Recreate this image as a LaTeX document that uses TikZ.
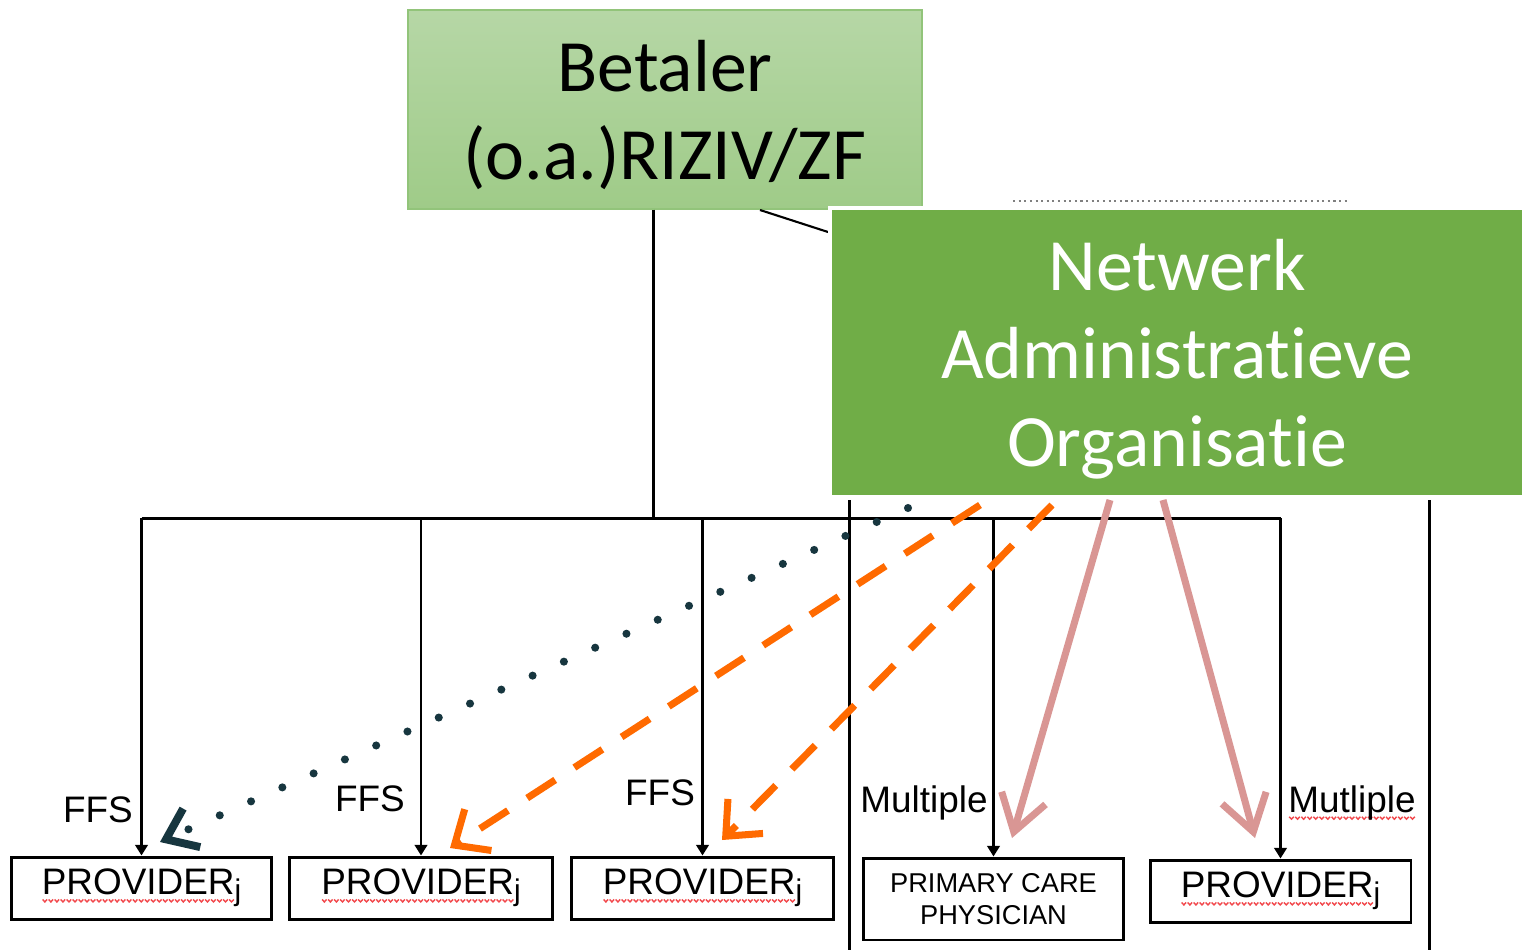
\documentclass[tikz,border=0pt]{standalone}
\usepackage{fontspec}
\setmainfont{Liberation Sans}
\newfontfamily\calibri[Ligatures=NoCommon]{Carlito}
\usetikzlibrary{arrows.meta}
\definecolor{spellred}{HTML}{F2484C}
\definecolor{paytop}{HTML}{B6D7A6}
\definecolor{paybot}{HTML}{9FCB88}
\definecolor{payline}{HTML}{92C47A}
\definecolor{naogreen}{HTML}{70AD47}
\definecolor{dotnavy}{HTML}{17363F}
\definecolor{dashorange}{HTML}{FF6A00}
\definecolor{capred}{HTML}{D99694}
\newsavebox{\wavebox}
\newcommand{\spellwave}[1]{\sbox{\wavebox}{#1}\rlap{\raisebox{-4.5pt}{\hbox to \wd\wavebox{\xleaders\hbox{\tikz[x=1pt,y=1pt]\draw[spellred,line width=0.8pt] (0,0) -- (1.3,-1.4) -- (2.6,0);}\hfill}}}\usebox{\wavebox}}
\newcommand{\provj}{\spellwave{PROVIDER}\raisebox{-3.5pt}{\fontsize{17}{17}\selectfont j}}
\newcommand{\ti}{t\kern0pt i}

\begin{document}
\begin{tikzpicture}[x=0.02cm,y=-0.02cm]
                        \tikzstyle{paybox}=[draw=payline,line width=0.8pt,top color=paytop,bottom color=paybot,minimum width=10.28cm,minimum height=3.98cm]
                        \tikzstyle{naobox}=[draw=white,line width=2pt,fill=naogreen,minimum width=13.88cm,minimum height=5.78cm]
                        \tikzstyle{bigtext}=[align=center,font=\calibri\fontsize{42}{50}\selectfont]
                        \tikzstyle{provbox}=[draw,line width=1.7pt,minimum width=5.22cm,minimum height=1.24cm,font=\fontsize{21}{24}\selectfont]
                        \tikzstyle{lab}=[inner sep=0pt,font=\fontsize{21}{24}\selectfont]
                        \tikzstyle{tree}=[line width=1.7pt]
                        \tikzstyle{drop}=[line width=1.7pt,-{Triangle[length=6pt,width=7pt]}]
                        \tikzstyle{capflow}=[capred,line width=4pt,-{Straight Barb[length=20pt,width=26pt]}]
                        \tikzstyle{ffsflow}=[dashorange,line width=4pt,dash pattern=on 19pt off 13pt,-{Straight Barb[length=16pt,width=28pt]}]
                        \tikzstyle{dotflow}=[dotnavy,line width=4.6pt,line cap=round,dash pattern=on 0pt off 19.5pt,-{Straight Barb[length=16pt,width=24pt,line width=4.5pt]}]
                        \useasboundingbox (0,0) rectangle (1524,950);
                        \fill[white] (0,0) rectangle (1524,950);
                        \node[paybox] (betaler) at (665,109.5) {};
                        \node[bigtext] (betalertext) at (665,115) {Betaler\\(o.a.)RIZIV/ZF};
                        \draw[line width=1.2pt] (760,210) -- (828,232);
                        \draw[gray,line width=1.2pt,dotted] (1013,201) -- (1348,201);
                        \node[naobox] (nao) at (1177,352.5) {};
                        \node[bigtext,text=white] (naotext) at (1177,359) {Netwerk\\Administra\ti eve\\Organisa\ti e};
                        \node[provbox,minimum width=5.22cm] (prov1) at (141.5,888) {\provj};
                        \node[provbox,minimum width=5.28cm] (prov2) at (421,888) {\provj};
                        \node[provbox,minimum width=5.26cm] (prov3) at (702.5,888) {\provj};
                        \node[provbox,minimum height=1.64cm,align=center,font=\fontsize{15.5}{18}\selectfont] (pcp) at (993.5,899) {PRIMARY CARE\\PHYSICIAN};
                        \node[provbox] (prov5) at (1280.5,891) {\provj};
                        \coordinate (bus) at (653,518);
                        \draw[tree] (betaler.south -| bus) -- (bus);
                        \draw[tree] (prov1.north |- bus) -- (prov5.north |- bus);
                        \draw[drop] (prov1.north |- bus) -- (prov1.north);
                        \draw[drop] (prov2.north |- bus) -- (prov2.north);
                        \draw[drop] (prov3.north |- bus) -- (prov3.north);
                        \draw[drop] (pcp.north |- bus) -- (pcp.north);
                        \draw[drop] (prov5.north |- bus) -- (prov5.north);
                        \draw[tree] (849,500) -- (849,950);
                        \draw[tree] (1429,500) -- (1429,950);
                        \node[lab,anchor=base] (ffs1) at (98,822) {FFS};
                        \node[lab,anchor=base] (ffs2) at (370,811) {FFS};
                        \node[lab,anchor=base] (ffs3) at (660,805) {FFS};
                        \node[lab,anchor=base] (mult1) at (924,812) {Multiple};
                        \node[lab,anchor=base] (mult2) at (1352,812) {\spellwave{Mutliple}};
                        \coordinate (dot1s) at (908,508);
                        \coordinate (dot1e) at (160,842);
                        \coordinate (ffs1s) at (980,505);
                        \coordinate (ffs1e) at (450,848);
                        \coordinate (ffs2s) at (1052,505);
                        \coordinate (ffs2e) at (722,840);
                        \coordinate (cap1s) at (1110,500);
                        \coordinate (cap1e) at (1012,838);
                        \coordinate (cap2s) at (1163,500);
                        \coordinate (cap2e) at (1255,838);
                        \draw[dotflow] (dot1s) -- (dot1e);
                        \draw[ffsflow] (ffs1s) -- (ffs1e);
                        \draw[ffsflow] (ffs2s) -- (ffs2e);
                        \draw[capflow] (cap1s) -- (cap1e);
                        \draw[capflow] (cap2s) -- (cap2e);
                    \end{tikzpicture}
\end{document}
